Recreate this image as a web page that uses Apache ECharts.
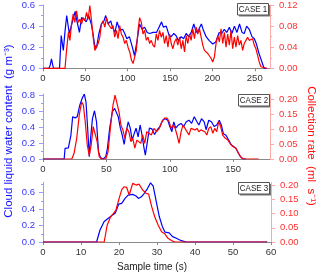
<!DOCTYPE html>
<html><head><meta charset="utf-8">
<script src="https://cdn.jsdelivr.net/npm/echarts@6/dist/echarts.min.js"></script>
<style>html,body{margin:0;padding:0;background:#fff}#c{width:320px;height:274px}</style>
</head><body><div id="c"></div>
<script>
// ---- DATA ----
const caseNames = ['CASE 1', 'CASE 2', 'CASE 3'];
// Case 1: [time (s), value]
const case1Lwc = [[0,0],[7,0],[8.5,0.03],[10,0.09],[11.5,0.03],[12.5,0],[19.5,0],[21.5,0.31],[24,0.17],[26,0.35],[28,0.50],[31,0.33],[34,0.42],[38,0.54],[40,0.45],[43,0.34],[45.5,0.48],[48,0.47],[51,0.44],[54,0.50],[57,0.42],[59,0.33],[61,0.22],[63,0.19],[66,0.33],[69,0.42],[72,0.45],[74,0.50],[77,0.42],[80,0.45],[82,0.39],[85,0.34],[87.5,0.44],[90.6,0.36],[94,0.37],[96.5,0.33],[99,0.28],[102,0.30],[105.5,0.20],[108,0.12],[111,0.26],[114,0.42],[117,0.37],[120,0.39],[123,0.34],[126,0.33],[130,0.34],[134,0.34],[137,0.39],[140,0.44],[142,0.39],[145.5,0.40],[149,0.31],[151.4,0.30],[154.5,0.33],[157,0.31],[160,0.26],[163,0.30],[166,0.28],[169,0.33],[172,0.30],[175,0.34],[178,0.42],[181,0.34],[184,0.37],[187,0.42],[189.4,0.36],[192.6,0.30],[196.5,0.26],[200.4,0.23],[204,0.25],[208,0.34],[211,0.33],[214,0.37],[217,0.34],[220,0.39],[223,0.33],[226,0.40],[229,0.34],[232,0.42],[235,0.34],[237.6,0.33],[240.4,0.40],[243.5,0.37],[246.7,0.30],[249.5,0.28],[252,0.23],[255,0.14],[258.5,0.06],[261,0],[264,0]];
const case1Rate = [[0,0],[26,0],[27.8,0.034],[30,0.068],[31.8,0.053],[33.7,0.084],[35.7,0.103],[37.6,0.087],[39.6,0.109],[41.6,0.087],[43.5,0.093],[45.5,0.084],[47.5,0.096],[49.4,0.09],[51.4,0.106],[53.3,0.093],[55.3,0.119],[57.3,0.09],[59.2,0.059],[61.2,0.034],[63.2,0.031],[65.1,0.047],[67.1,0.059],[69,0.084],[71,0.09],[73,0.078],[74.9,0.096],[76.9,0.084],[78.8,0.087],[80.8,0.075],[82.7,0.081],[84.7,0.059],[86.7,0.072],[88.6,0.056],[90.6,0.081],[92.5,0.065],[94.5,0.059],[96.5,0.047],[98.4,0.053],[100.4,0.04],[102.4,0.031],[104.3,0.016],[106.3,0.009],[108.2,0.009],[110.2,0.034],[112.2,0.072],[114.1,0.096],[116.1,0.087],[118,0.065],[120,0.072],[122,0.053],[123.9,0.059],[125.9,0.047],[127.8,0.053],[129.8,0.044],[131.8,0.04],[133.7,0.065],[135.7,0.053],[137.6,0.072],[139.6,0.059],[141.6,0.068],[143.5,0.047],[145.5,0.062],[147.5,0.04],[149.4,0.065],[151.4,0.047],[153.3,0.037],[155.3,0.05],[157.3,0.056],[159.2,0.044],[161.2,0.059],[163.2,0.037],[165.1,0.053],[167.1,0.031],[169,0.062],[171,0.047],[173,0.065],[174.9,0.053],[176.9,0.075],[178.8,0.056],[180.8,0.078],[182.7,0.065],[184.7,0.075],[186.7,0.059],[188.6,0.044],[190.6,0.034],[192.6,0.034],[194.5,0.028],[196.5,0.025],[198.4,0.019],[200.4,0.012],[202.4,0.022],[204.3,0.047],[206.3,0.062],[208.2,0.05],[210.2,0.075],[212.2,0.047],[214.1,0.068],[216.1,0.04],[218,0.065],[220,0.044],[222,0.072],[223.9,0.037],[225.9,0.059],[227.8,0.04],[229.8,0.062],[231.8,0.044],[233.7,0.053],[235.7,0.034],[237.6,0.047],[239.6,0.053],[241.6,0.059],[243.5,0.053],[245.5,0.05],[247.5,0.056],[249.4,0.044],[251.4,0.037],[253.3,0.025],[255.3,0.012],[257.3,0.003],[259,0],[264,0]];
// Case 2
const case2Lwc = [[0,0],[16.7,0],[17.4,0.135],[20,0.14],[22,0.30],[23.4,0.535],[25.3,0.52],[27,0.535],[29,0.68],[31,0.77],[32.6,0.82],[33.9,0.72],[35.2,0.39],[36.5,0.03],[37.5,0.26],[39,0.51],[40.6,0.61],[42.2,0.47],[43.8,0.09],[45.3,0.02],[47.4,0],[49.5,0.03],[50.8,0.135],[52.6,0.39],[54.7,0.60],[56.5,0.64],[57.8,0.66],[59.4,0.53],[61,0.39],[62.5,0.30],[64,0.185],[65.6,0.345],[67.2,0.47],[68.8,0.39],[70.3,0.24],[71.9,0.32],[73.4,0.39],[75,0.28],[76.6,0.43],[78.1,0.30],[79.7,0.135],[80.7,0.05],[82.3,0.22],[83.9,0.39],[85.9,0.38],[88,0.31],[90.1,0.37],[92.2,0.41],[94.3,0.49],[96.4,0.51],[98.4,0.49],[100,0.41],[101.6,0.345],[103.1,0.47],[104.7,0.39],[106.8,0.43],[108.9,0.45],[110.9,0.41],[113,0.47],[115.1,0.49],[117.2,0.45],[119.3,0.535],[121.4,0.47],[122.9,0.43],[125,0.51],[127.1,0.47],[128.6,0.37],[130.7,0.49],[132.8,0.47],[134.9,0.41],[137,0.43],[139,0.49],[140.6,0.43],[142.2,0.32],[144.3,0.30],[146.4,0.24],[148.4,0.18],[150.5,0.155],[152.1,0.135],[154.2,0.07],[155.7,0.03],[157.8,0],[160,0]];
const case2Rate = [[0,0],[22.7,0],[24.5,0.019],[26.6,0.069],[28.6,0.147],[30.5,0.19],[31.8,0.18],[33.3,0.124],[34.9,0.047],[36.5,0.011],[38,0.047],[39.6,0.108],[41.1,0.113],[42.7,0.058],[44.3,0.008],[46.1,0],[49.5,0],[51.3,0.024],[53.1,0.102],[55.2,0.18],[56.8,0.213],[58.3,0.208],[59.9,0.158],[61.5,0.113],[63,0.097],[64.6,0.069],[66.1,0.102],[67.7,0.091],[69.3,0.058],[70.8,0.069],[72.4,0.036],[74,0.063],[75.5,0.069],[77.1,0.052],[78.6,0.08],[80.2,0.052],[81.8,0.091],[83.3,0.086],[85.4,0.08],[87.5,0.102],[89.6,0.091],[91.7,0.102],[93.8,0.124],[95.8,0.136],[97.9,0.136],[99.5,0.124],[101,0.102],[102.6,0.113],[104.2,0.102],[105.7,0.08],[107.3,0.052],[108.9,0.091],[110.4,0.113],[112,0.102],[113.5,0.108],[115.1,0.08],[116.7,0.102],[118.2,0.108],[119.8,0.097],[121.4,0.102],[122.9,0.091],[124.5,0.097],[126,0.102],[127.6,0.091],[129.2,0.08],[130.7,0.102],[132.3,0.108],[133.9,0.086],[135.4,0.102],[137,0.091],[138.5,0.124],[140.1,0.108],[141.7,0.08],[143.8,0.069],[145.8,0.063],[147.9,0.049],[150,0.041],[152.1,0.036],[154.2,0.019],[156.3,0.004],[158.3,0],[170,0]];
// Case 3
const case3Lwc = [[0,0],[14.1,0],[15,0.146],[16.1,0.25],[17.2,0.29],[18.3,0.33],[19,0.35],[19.9,0.46],[20.7,0.47],[21.6,0.53],[22.4,0.57],[23.6,0.58],[24.5,0.56],[25.1,0.53],[25.9,0.55],[26.6,0.59],[27.5,0.65],[28.3,0.72],[29,0.68],[29.9,0.47],[30.6,0.31],[31.4,0.19],[32.1,0.12],[33.2,0.11],[34.1,0.065],[35.1,0.045],[36.4,0.016],[37.7,0],[59,0]];
const case3Rate = [[0,0],[16.1,0],[16.9,0.06],[17.8,0.089],[18.5,0.10],[19.2,0.113],[19.9,0.148],[20.7,0.184],[21.3,0.195],[22,0.193],[22.7,0.166],[23.6,0.207],[24.5,0.201],[25.3,0.204],[26.2,0.184],[27.1,0.172],[27.8,0.169],[28.6,0.125],[29.4,0.089],[30.3,0.06],[31.2,0.036],[32.1,0.028],[32.9,0.013],[33.8,0.005],[34.7,0],[59,0]];

// Tick labels
const case1TimeTicks = [0,50,100,150,200,250];
const case2TimeTicks = [0,50,100,150];
const case3TimeTicks = [0,10,20,30,40,50,60];
const case1LwcTicks = [0,0.2,0.4,0.6], case1LwcMinor = [0.1,0.3,0.5];
const case1RateTicks = [0,0.04,0.08,0.12], case1RateMinor = [0.02,0.06,0.10];
const case2LwcTicks = [0,0.2,0.4,0.6,0.8], case2LwcMinor = [0.1,0.3,0.5,0.7];
const case2RateTicks = [0,0.05,0.10,0.15,0.20], case2RateMinor = [];
const case3LwcTicks = [0,0.2,0.4,0.6], case3LwcMinor = [0.1,0.3,0.5,0.7];
const case3RateTicks = [0,0.05,0.10,0.15,0.20], case3RateMinor = [];

// ---- CHART ----
const FONT = '"Liberation Sans", Arial, sans-serif';
const BLUE = '#0000ff', RED = '#ff0000';
const LBLUE = '#3535ff', LRED = '#ff3030';
const ABLUE = '#9a9aff', ARED = '#ffa8a8';

const panels = [
  {grid:{left:43, top:4, width:227, height:64.3}, xMax:268, xTicks:case1TimeTicks,
   lMax:0.6, lTicks:case1LwcTicks, lMinor:case1LwcMinor, lDec:1,
   rMax:0.12, rTicks:case1RateTicks, rMinor:case1RateMinor, rDec:2,
   lwc:case1Lwc, rate:case1Rate, box:[237.5,3.5]},
  {grid:{left:43, top:94, width:227, height:65}, xMax:179, xTicks:case2TimeTicks,
   lMax:0.8215, lTicks:case2LwcTicks, lMinor:case2LwcMinor, lDec:1,
   rMax:0.2167, rTicks:case2RateTicks, rMinor:case2RateMinor, rDec:2,
   lwc:case2Lwc, rate:case2Rate, box:[238.5,94.5]},
  {grid:{left:43, top:182.5, width:228, height:59.5}, xMax:60, xTicks:case3TimeTicks,
   lMax:0.724, lTicks:case3LwcTicks, lMinor:case3LwcMinor, lDec:1,
   rMax:0.21, rTicks:case3RateTicks, rMinor:case3RateMinor, rDec:2,
   lwc:case3Lwc, rate:case3Rate, box:[238.5,182.5]}
];

const grid = [], xAxis = [], yAxis = [], series = [], graphic = [];
panels.forEach((p, i) => {
  grid.push(p.grid);
  xAxis.push({type:'value', gridIndex:i, min:0, max:p.xMax,
    axisLine:{onZero:false, lineStyle:{color:'#8a8a8a', width:1}},
    axisTick:{customValues:p.xTicks, length:3, lineStyle:{color:'#8a8a8a'}},
    axisLabel:{customValues:p.xTicks, color:'#333', fontSize:9.5, fontFamily:FONT, margin:5},
    splitLine:{show:false}});
  const mk = (pos, max, ticks, minor, dec, lc, ac) => [
    {type:'value', gridIndex:i, position:pos, min:0, max:max,
     axisLine:{show:true, lineStyle:{color:ac, width:1}},
     axisTick:{show:true, customValues:ticks, length:4, lineStyle:{color:ac}},
     axisLabel:{customValues:ticks, formatter:v=>v.toFixed(dec), color:lc, fontSize:9.5, fontFamily:FONT, margin: pos==='left'?8:9},
     splitLine:{show:false}},
    {type:'value', gridIndex:i, position:pos, min:0, max:max,
     axisLine:{show:false}, axisLabel:{show:false}, splitLine:{show:false},
     axisTick:{show:minor.length>0, customValues:minor.length?minor:[0], length:2, lineStyle:{color:ac}}}
  ];
  const L = mk('left', p.lMax, p.lTicks, p.lMinor, p.lDec, LBLUE, ABLUE);
  const R = mk('right', p.rMax, p.rTicks, p.rMinor, p.rDec, LRED, ARED);
  const base = yAxis.length;
  yAxis.push(L[0], R[0], L[1], R[1]);
  series.push({type:'line', xAxisIndex:i, yAxisIndex:base, data:p.lwc, showSymbol:false, symbol:'none',
    lineStyle:{color:BLUE, width:1.2}, itemStyle:{color:BLUE}, silent:true, z:2});
  series.push({type:'line', xAxisIndex:i, yAxisIndex:base+1, data:p.rate, showSymbol:false, symbol:'none',
    lineStyle:{color:RED, width:1.2}, itemStyle:{color:RED}, silent:true, z:3});
  graphic.push({type:'group', x:p.box[0], y:p.box[1], z:10, children:[
    {type:'rect', shape:{x:1.5, y:1.5, width:31, height:11.5}, style:{fill:'#777'}},
    {type:'rect', shape:{x:0, y:0, width:31, height:11.5}, style:{fill:'#fff', stroke:'#555', lineWidth:1}},
    {type:'group', x:15.5, y:6.2, scaleX:0.84, children:[
      {type:'text', style:{text:caseNames[i], font:'9.5px "Liberation Sans", Arial, sans-serif', fill:'#222', textAlign:'center', textVerticalAlign:'middle'}}]}
  ]});
});

graphic.push({type:'text', x:9, y:131, rotation:Math.PI/2, style:{text:'Cloud liquid water content  (g m\u207B\u00B3)', font:'11.5px "Liberation Sans", Arial, sans-serif', fill:'#1010ff', textAlign:'center', textVerticalAlign:'middle'}});
graphic.push({type:'text', x:311, y:146, rotation:-Math.PI/2, style:{text:'Collection rate  (ml  s\u207B\u00B9)', font:'11.5px "Liberation Sans", Arial, sans-serif', fill:'#ff1010', textAlign:'center', textVerticalAlign:'middle'}});
graphic.push({type:'text', x:152, y:267, style:{text:'Sample time (s)', font:'10px "Liberation Sans", Arial, sans-serif', fill:'#222', textAlign:'center', textVerticalAlign:'middle'}});

const chart = echarts.init(document.getElementById('c'), null, {renderer:'canvas'});
chart.setOption({animation:false, backgroundColor:'#fff', grid, xAxis, yAxis, series, graphic});
</script>
</body></html>
